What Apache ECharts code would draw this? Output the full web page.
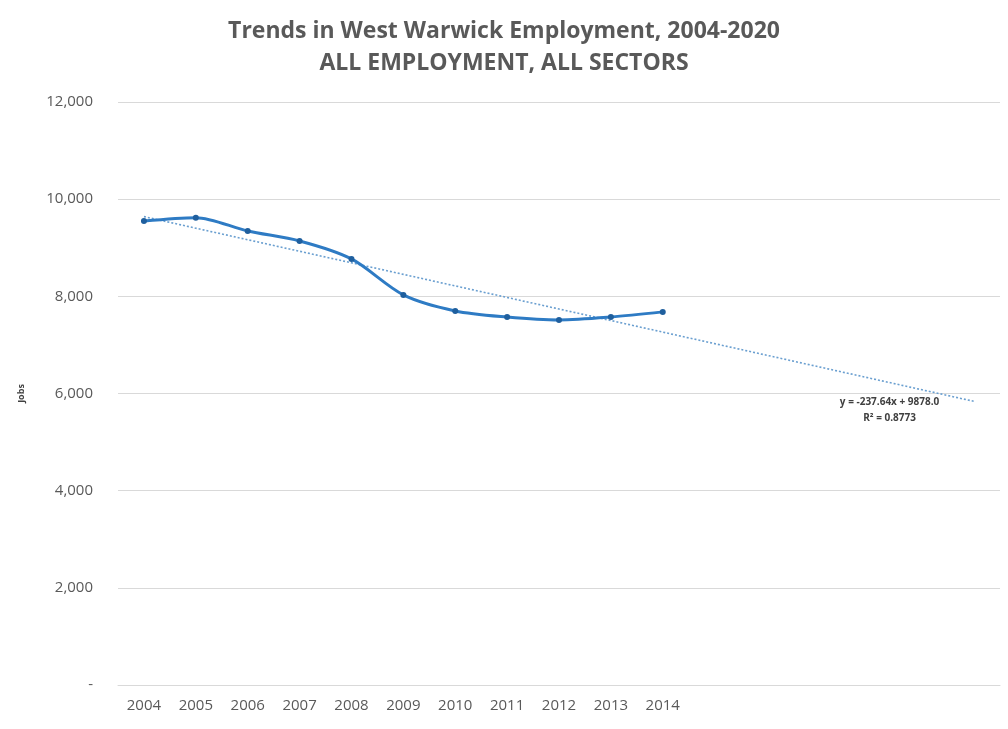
<!DOCTYPE html>
<html>
<head>
<meta charset="utf-8">
<script src="https://cdn.jsdelivr.net/npm/echarts@6/dist/echarts.min.js"></script>
<style>html,body{margin:0;padding:0;background:#fff}#c{width:1008px;height:729px}</style>
</head>
<body>
<div id="c"></div>
<script>
// Category axis: 2004-2020 (trendline forecast to 2020), labels only for observed years
const years = ['2004','2005','2006','2007','2008','2009','2010','2011','2012','2013','2014','2015','2016','2017','2018','2019','2020'];
const yearLabels = ['2004','2005','2006','2007','2008','2009','2010','2011','2012','2013','2014','','','','','',''];
// Employment (jobs)
const jobs = [9550, 9620, 9345, 9140, 8770, 8030, 7700, 7575, 7515, 7575, 7680];
// Linear trendline coefficients as printed on the chart
const trendSlope = -237.64;
const trendIntercept = 9878.0;
const trendR2 = '0.8773';
const yTicks = [0, 2000, 4000, 6000, 8000, 10000, 12000];

const trend = years.map((y, i) => trendIntercept + trendSlope * (i + 1));
const trendData = trend.map((v, i) => (i === years.length - 1)
  ? {value: v, label: {show: true}} : v);

const fontFam = '"Open Sans", "Noto Sans", sans-serif';
const chart = echarts.init(document.getElementById('c'));
chart.setOption({
  animation: false,
  title: {
    text: 'Trends in West Warwick Employment, 2004-2020\nALL EMPLOYMENT, ALL SECTORS',
    left: 'center', top: 10,
    textStyle: {fontFamily: fontFam, fontSize: 23, fontWeight: 'bold', color: '#595959', lineHeight: 32}
  },
  grid: {left: 118, right: 8, top: 102, bottom: 44},
  xAxis: {
    type: 'category', data: years, boundaryGap: true,
    axisLine: {show: true, lineStyle: {color: '#d9d9d9'}},
    axisTick: {show: false},
    axisLabel: {formatter: (v, i) => yearLabels[i], color: '#595959', fontFamily: fontFam, fontSize: 15, margin: 13, interval: 0}
  },
  yAxis: {
    type: 'value', min: 0, max: 12000, interval: 2000,
    name: 'Jobs', nameLocation: 'middle', nameGap: 92,
    nameTextStyle: {fontFamily: fontFam, fontSize: 9, color: '#404040', fontWeight: 'bold'},
    axisLine: {show: false}, axisTick: {show: false},
    splitLine: {lineStyle: {color: '#d9d9d9', width: 1}},
    axisLabel: {
      color: '#595959', fontFamily: fontFam, fontSize: 15, margin: 25,
      formatter: v => v === 0 ? '-' : v.toLocaleString('en-US')
    }
  },
  series: [
    {
      name: 'Jobs', type: 'line', data: jobs, smooth: 0.3,
      lineStyle: {color: '#2e7bc4', width: 3},
      itemStyle: {color: '#1f5f9e'},
      symbol: 'circle', symbolSize: 6, z: 3
    },
    {
      name: 'Trend', type: 'line', data: trendData,
      lineStyle: {color: '#6a9fd0', width: 1.6, type: [2, 2]},
      symbol: 'circle', symbolSize: 1, showSymbol: true,
      itemStyle: {color: 'rgba(0,0,0,0)', borderWidth: 0}, z: 2,
      label: {
        show: false, position: [-84, -7], align: 'center', verticalAlign: 'top',
        formatter: () => 'y = ' + trendSlope.toFixed(2) + 'x + ' + trendIntercept.toFixed(1) + '\nR² = ' + trendR2,
        fontFamily: fontFam, fontSize: 10, fontWeight: 'bold', color: '#404040', lineHeight: 16
      }
    }
  ]
});
</script>
</body>
</html>
